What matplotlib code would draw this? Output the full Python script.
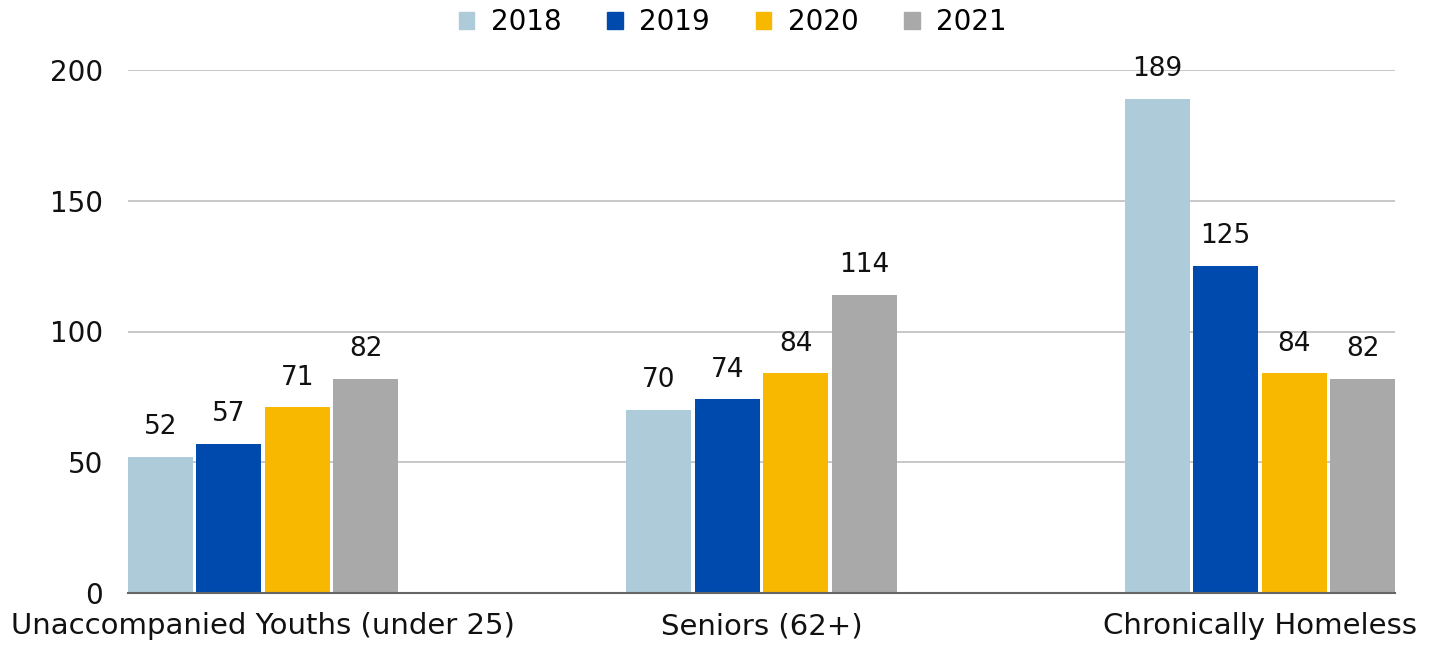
import matplotlib
matplotlib.use("Agg")
import matplotlib.pyplot as plt
from matplotlib.patches import Patch
import numpy as np

categories = ["Unaccompanied Youths (under 25)", "Seniors (62+)", "Chronically Homeless"]
years = ["2018", "2019", "2020", "2021"]
values_2018 = [52, 70, 189]
values_2019 = [57, 74, 125]
values_2020 = [71, 84, 84]
values_2021 = [82, 114, 82]
series = [values_2018, values_2019, values_2020, values_2021]
colors = ["#AECBDA", "#004AAD", "#F8B800", "#A9A9A9"]
yticks = [0, 50, 100, 150, 200]

plt.rcParams["font.family"] = ["DejaVu Sans"]

fig = plt.figure(figsize=(14.37, 6.45), dpi=100)
ax = fig.add_axes([128 / 1437, 1 - 593 / 645, (1395 - 128) / 1437, (593 - 70) / 645])

step = 68.5 / 498.5
width = 65 / 498.5
x = np.arange(len(categories))
offsets = (np.arange(len(years)) - 1.5) * step

for i, (yr, vals) in enumerate(zip(years, series)):
    bars = ax.bar(x + offsets[i], vals, width=width, color=colors[i], zorder=3)
    for b, v in zip(bars, vals):
        ax.annotate(str(v), (b.get_x() + b.get_width() / 2, v),
                    xytext=(0, 12), textcoords="offset points",
                    ha="center", va="bottom", fontsize=19, color="#111111")

half = 1.5 * step + width / 2
ax.set_xlim(-half, 2 + half)
ax.set_ylim(0, 200)
ax.set_yticks(yticks)
ax.set_yticklabels([str(t) for t in yticks], fontsize=20)
ax.set_xticks(x)
ax.set_xticklabels(categories, fontsize=21)
ax.tick_params(axis="both", length=0, colors="#111111")
ax.tick_params(axis="y", pad=18)
ax.tick_params(axis="x", pad=14)
ax.grid(axis="y", color="#BFBFBF", linewidth=1.2, zorder=0)
for s in ["top", "right", "left"]:
    ax.spines[s].set_visible(False)
ax.spines["bottom"].set_color("#666666")
ax.spines["bottom"].set_linewidth(1.5)
ax.spines["bottom"].set_zorder(4)

handles = [Patch(color=c, label=y) for c, y in zip(colors, years)]
fig.legend(handles=handles, loc="center", bbox_to_anchor=(733 / 1437, 1 - 22 / 645),
           ncol=4, frameon=False, fontsize=20, handlelength=0.55, handleheight=0.55,
           handletextpad=0.6, columnspacing=1.65)

fig.savefig("out.png", dpi=100)
